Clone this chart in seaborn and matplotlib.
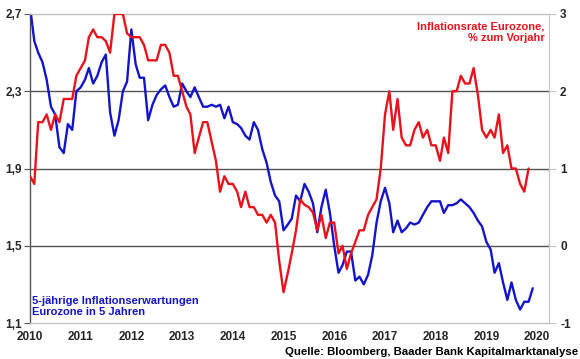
import matplotlib
matplotlib.use("Agg")
import matplotlib.pyplot as plt
import matplotlib.dates as mdates
import seaborn as sns
import numpy as np
import pandas as pd

# Inflationsrate Eurozone, % zum Vorjahr (monthly, Jan 2010 - Nov 2019)
inflation = [
    0.9, 0.8, 1.6, 1.6, 1.7, 1.5, 1.7, 1.6, 1.9, 1.9, 1.9, 2.2,
    2.3, 2.4, 2.7, 2.8, 2.7, 2.7, 2.65, 2.5, 3.0, 3.0, 3.0, 2.75,
    2.7, 2.7, 2.7, 2.6, 2.4, 2.4, 2.4, 2.6, 2.6, 2.5, 2.2, 2.2,
    2.0, 1.8, 1.7, 1.2, 1.4, 1.6, 1.6, 1.35, 1.1, 0.7, 0.9, 0.8,
    0.8, 0.7, 0.5, 0.7, 0.5, 0.5, 0.4, 0.4, 0.3, 0.4, 0.3, -0.2,
    -0.6, -0.35, -0.1, 0.2, 0.6, 0.53, 0.5, 0.43, 0.2, 0.4, 0.1, 0.3,
    0.3, -0.1, 0.0, -0.3, -0.1, 0.05, 0.2, 0.2, 0.4, 0.5, 0.6, 1.0,
    1.7, 2.0, 1.5, 1.9, 1.4, 1.3, 1.3, 1.5, 1.6, 1.4, 1.5, 1.3,
    1.3, 1.1, 1.4, 1.2, 2.0, 2.0, 2.2, 2.1, 2.1, 2.3, 1.95, 1.5,
    1.4, 1.5, 1.4, 1.7, 1.2, 1.3, 1.0, 1.0, 0.8, 0.7, 1.0,
]

# 5-jaehrige Inflationserwartungen Eurozone in 5 Jahren (monthly, Jan 2010 - Dec 2019)
expectations = [
    2.74, 2.56, 2.50, 2.45, 2.36, 2.22, 2.18, 2.01, 1.98, 2.13, 2.10, 2.30,
    2.32, 2.36, 2.42, 2.34, 2.38, 2.45, 2.49, 2.19, 2.07, 2.15, 2.30, 2.35,
    2.62, 2.44, 2.37, 2.37, 2.15, 2.23, 2.28, 2.31, 2.33, 2.27, 2.22, 2.23,
    2.34, 2.30, 2.27, 2.32, 2.27, 2.22, 2.22, 2.23, 2.22, 2.23, 2.16, 2.22,
    2.14, 2.13, 2.11, 2.07, 2.05, 2.14, 2.10, 2.00, 1.93, 1.83, 1.76, 1.73,
    1.58, 1.61, 1.64, 1.76, 1.73, 1.82, 1.78, 1.72, 1.57, 1.70, 1.79, 1.67,
    1.50, 1.36, 1.40, 1.47, 1.47, 1.32, 1.34, 1.30, 1.35, 1.45, 1.62, 1.73,
    1.80, 1.72, 1.57, 1.63, 1.57, 1.59, 1.62, 1.61, 1.62, 1.66, 1.70, 1.73,
    1.73, 1.73, 1.67, 1.71, 1.71, 1.72, 1.74, 1.72, 1.70, 1.67, 1.63, 1.60,
    1.52, 1.48, 1.36, 1.41, 1.31, 1.22, 1.31, 1.22, 1.17, 1.21, 1.21, 1.28,
]

left_ticks = [1.1, 1.5, 1.9, 2.3, 2.7]
right_ticks = [-1, 0, 1, 2, 3]
years = list(range(2010, 2021))

df_inf = pd.DataFrame({"date": pd.date_range("2010-01-01", periods=len(inflation), freq="MS"),
                       "value": inflation})
df_exp = pd.DataFrame({"date": pd.date_range("2010-01-01", periods=len(expectations), freq="MS"),
                       "value": expectations})

sns.set_style("white")
plt.rcParams["font.family"] = ["Liberation Sans", "DejaVu Sans"]

RED = "#e8121c"
BLUE = "#1414c8"
DARK = "#555555"
LIGHT = "#c4c4c4"

fig = plt.figure(figsize=(5.8, 3.59), dpi=100)
ax = fig.add_axes([30 / 580, 1 - 323 / 359, (549 - 30) / 580, (323 - 14) / 359])
ax2 = ax.twinx()

# gridlines on the left axis
for v in left_ticks[1:-1]:
    ax.axhline(v, color=DARK, lw=1.0, zorder=0)

sns.lineplot(data=df_exp, x="date", y="value", ax=ax, color=BLUE, lw=1.7, zorder=3)
sns.lineplot(data=df_inf, x="date", y="value", ax=ax2, color=RED, lw=1.7, zorder=3)

ax.set_ylim(1.1, 2.7)
ax2.set_ylim(-1, 3)
ax.set_xlim(pd.Timestamp("2010-01-01"), pd.Timestamp("2020-03-27"))

ax.set_yticks(left_ticks)
ax.set_yticklabels([f"{v:.1f}".replace(".", ",") for v in left_ticks])
ax2.set_yticks(right_ticks)
ax2.set_yticklabels([str(v) for v in right_ticks])
ax.set_xticks([pd.Timestamp(f"{y}-01-01") for y in years])
ax.xaxis.set_major_formatter(mdates.DateFormatter("%Y"))

for a in (ax, ax2):
    a.set_xlabel("")
    a.set_ylabel("")
    for lab in a.get_xticklabels() + a.get_yticklabels():
        lab.set_fontweight("bold")
        lab.set_fontsize(8.5)

ax.tick_params(axis="x", direction="out", length=4, width=0.8, color=DARK, pad=2)
ax.tick_params(axis="y", direction="out", length=4, width=0.8, color=DARK, pad=2)
ax2.tick_params(axis="y", direction="out", length=5, width=0.8, color=LIGHT, pad=3)

ax.spines["left"].set_color(DARK)
ax.spines["bottom"].set_color(LIGHT)
ax.spines["top"].set_color(LIGHT)
ax.spines["right"].set_visible(False)
ax2.spines["left"].set_visible(False)
ax2.spines["bottom"].set_visible(False)
ax2.spines["top"].set_color(LIGHT)
ax2.spines["right"].set_color(LIGHT)
for s in ax.spines.values():
    s.set_linewidth(1.0)

ax2.text(0.991, 0.975, "Inflationsrate Eurozone,\n% zum Vorjahr", transform=ax.transAxes,
         ha="right", va="top", color=RED, fontsize=8, fontweight="bold", linespacing=1.15)
ax.text(0.004, 0.02, "5-jährige Inflationserwartungen\nEurozone in 5 Jahren", transform=ax.transAxes,
        ha="left", va="bottom", color=BLUE, fontsize=8, fontweight="bold", linespacing=1.1, zorder=5)
fig.text(578 / 580, 1 - 352 / 359, "Quelle: Bloomberg, Baader Bank Kapitalmarktanalyse",
         ha="right", va="center", fontsize=8.2, fontweight="bold", color="black")

fig.savefig("out.png", dpi=100)
